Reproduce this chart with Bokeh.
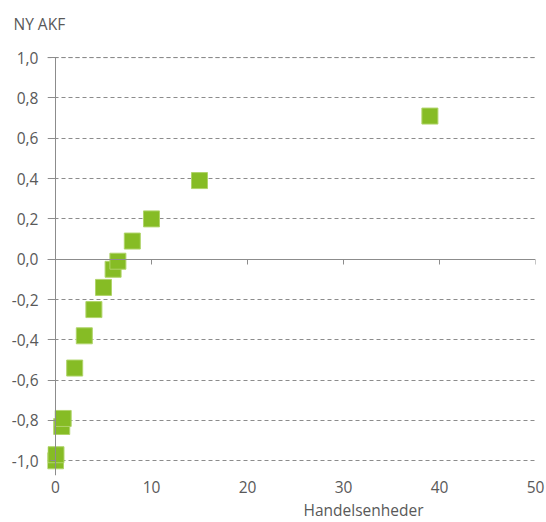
from bokeh.plotting import figure
from bokeh.models import Range1d, LinearAxis, FixedTicker, CustomJSTickFormatter, Title, Span
from bokeh.embed import file_html
from bokeh.resources import INLINE

# ---- data ----
x_vals = [0.0, 0.05, 0.65, 0.8, 2, 3, 4, 5, 6, 6.5, 8, 10, 15, 39]
y_vals = [-1.0, -0.97, -0.83, -0.79, -0.54, -0.38, -0.25, -0.14, -0.05, -0.01, 0.09, 0.20, 0.39, 0.71]
x_ticks = [0, 10, 20, 30, 40, 50]
y_ticks = [-1.0, -0.8, -0.6, -0.4, -0.2, 0.0, 0.2, 0.4, 0.6, 0.8, 1.0]
y_title = "NY AKF"
x_title = "Handelsenheder"

FONT = "Open Sans"
TXT = "#595959"
AX = "#8c8c8c"
GREEN = "#86BC25"
FS = "15.5px"

p = figure(width=546, height=522, output_backend="svg", toolbar_location=None,
           x_range=Range1d(-0.833, 50), y_range=Range1d(-1.073, 1.065),
           min_border_left=47, min_border_right=11, min_border_top=42, min_border_bottom=41)
p.outline_line_color = None
p.background_fill_color = "white"
p.border_fill_color = "white"
p.xgrid.visible = False
p.ygrid.ticker = FixedTicker(ticks=y_ticks)
p.ygrid.grid_line_color = AX
p.ygrid.grid_line_dash = "4 3"
p.ygrid.grid_line_width = 1

# top gridline (1,0), drawn on the overlay level as well
p.add_layout(Span(location=y_ticks[-1], dimension="width", line_color=AX,
                  line_dash="4 3", line_width=1, level="overlay"))

# bottom axis: labels only
xa = p.xaxis[0]
xa.ticker = FixedTicker(ticks=x_ticks)
xa.axis_line_color = None
xa.major_tick_line_color = None
xa.minor_tick_line_color = None
xa.major_tick_out = 0
xa.major_tick_in = 0
xa.major_label_standoff = 5
xa.major_label_text_font = FONT
xa.major_label_text_font_size = FS
xa.major_label_text_color = TXT

# left axis: labels only
ya = p.yaxis[0]
ya.ticker = FixedTicker(ticks=y_ticks)
ya.formatter = CustomJSTickFormatter(code="return tick.toFixed(1).replace('.', ',');")
ya.axis_line_color = None
ya.major_tick_line_color = None
ya.minor_tick_line_color = None
ya.major_tick_out = 0
ya.major_tick_in = 0
ya.major_label_standoff = 9
ya.major_label_text_font = FONT
ya.major_label_text_font_size = FS
ya.major_label_text_color = TXT

# axis lines crossing at zero
empty = CustomJSTickFormatter(code="return '';")
y0 = LinearAxis(fixed_location=0, ticker=FixedTicker(ticks=y_ticks), formatter=empty,
                axis_line_color=AX, axis_line_width=1, major_tick_line_color=AX,
                major_tick_in=5, major_tick_out=0, minor_tick_line_color=None,
                major_label_standoff=0, bounds=(-1.073, 1.0))
p.add_layout(y0, "right")
x0 = LinearAxis(fixed_location=0, ticker=FixedTicker(ticks=x_ticks), formatter=empty,
                axis_line_color=AX, axis_line_width=1, major_tick_line_color=AX,
                major_tick_in=5, major_tick_out=0, minor_tick_line_color=None,
                major_label_standoff=0)
p.add_layout(x0, "above")

# titles
p.title.text = y_title
p.title.align = "left"
p.title.offset = -34
p.title.standoff = 20
p.title.text_font = FONT
p.title.text_font_size = FS
p.title.text_font_style = "normal"
p.title.text_color = TXT

p.add_layout(Title(text=x_title, align="left", offset=256, standoff=3,
                   text_font=FONT, text_font_size=FS, text_font_style="normal",
                   text_color=TXT), "below")

p.scatter(x_vals, y_vals, marker="square", size=16, fill_color=GREEN,
          line_color="#b0d46a", line_width=1)

open("out.html", "w").write(file_html(p, INLINE))
